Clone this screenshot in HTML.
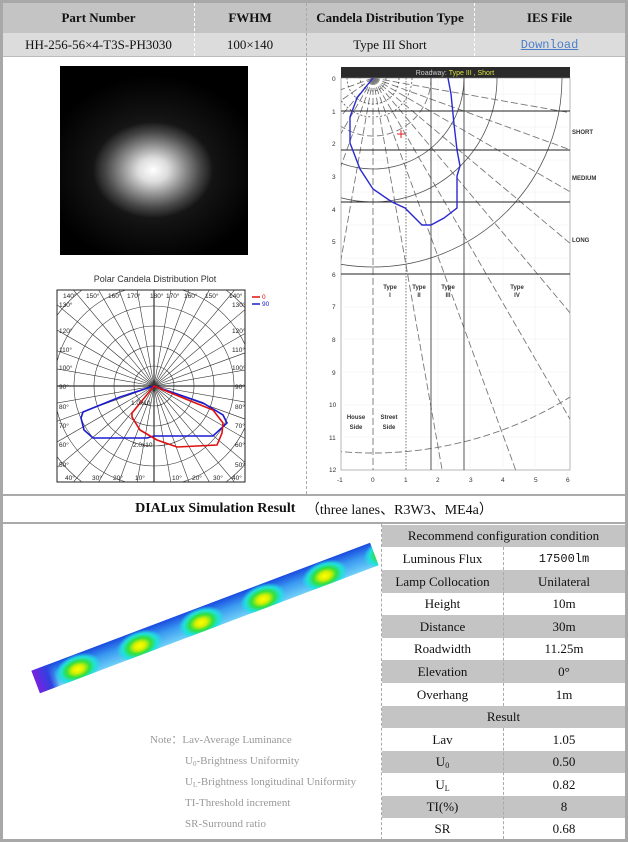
<!DOCTYPE html>
<html><head><meta charset="utf-8">
<style>
*{margin:0;padding:0;box-sizing:border-box}
body{width:628px;height:842px;background:#fff;position:relative;font-family:"Liberation Serif",serif;overflow:hidden}
.a{position:absolute}
.c{position:absolute;display:flex;align-items:center;justify-content:center;font-size:13px;color:#111}
.g{background:#c4c4c4}
sub{line-height:0;vertical-align:-2px}
</style></head><body>
<div class="a" style="left:0;top:0;width:628px;height:842px;border:3px solid #a8a8a8"></div>
<div class="c g" style="left:3px;top:3px;width:622px;height:30px"></div>
<div class="c" style="left:3px;top:3px;width:191px;height:30px;font-weight:bold">Part Number</div>
<div class="c" style="left:194px;top:3px;width:112px;height:30px;font-weight:bold">FWHM</div>
<div class="c" style="left:306px;top:3px;width:168px;height:30px;font-weight:bold">Candela Distribution Type</div>
<div class="c" style="left:474px;top:3px;width:151px;height:30px;font-weight:bold">IES File</div>
<div class="c" style="left:3px;top:33px;width:622px;height:23px;background:#dcdcdc"></div>
<div class="c" style="left:3px;top:33px;width:191px;height:23px">HH-256-56×4-T3S-PH3030</div>
<div class="c" style="left:194px;top:33px;width:112px;height:23px">100×140</div>
<div class="c" style="left:306px;top:33px;width:168px;height:23px">Type III Short</div>
<div class="c" style="left:474px;top:33px;width:151px;height:23px;color:#4a7fc8;text-decoration:underline;font-family:'Liberation Mono',monospace;font-size:12px">Download</div>
<div class="a" style="left:194px;top:3px;height:53px;border-left:1px dashed #fff"></div>
<div class="a" style="left:306px;top:3px;height:491px;border-left:1px dashed #aaa"></div>
<div class="a" style="left:474px;top:3px;height:53px;border-left:1px dashed #fff"></div>
<div class="a" style="left:3px;top:56px;width:622px;border-top:1px solid #bbb"></div>
<div class="a" style="left:60px;top:66px;width:188px;height:189px;background:radial-gradient(ellipse 60px 48px at 93px 104px,#fff 0%,#ddd 25%,#888 55%,#444 80%,rgba(0,0,0,0) 100%),radial-gradient(ellipse 110px 95px at 93px 104px,#333 0%,#111 60%,#000 100%)"></div>
<div class="a" style="left:57px;top:274px;width:196px;text-align:center;font-family:'Liberation Sans',sans-serif;font-size:9px;color:#333">Polar Candela Distribution Plot</div>
<svg class="a" style="left:0;top:0" width="628" height="842">
<defs><clipPath id="pc"><rect x="57" y="290" width="188" height="192"/></clipPath>
<clipPath id="rc"><rect x="341" y="78" width="229" height="392"/></clipPath></defs>
<rect x="57" y="290" width="188" height="192" fill="#fff" stroke="#222" stroke-width="1"/>
<g clip-path="url(#pc)" stroke="#333" stroke-width="0.6" fill="none">
<circle cx="154" cy="386" r="20"/><circle cx="154" cy="386" r="40"/><circle cx="154" cy="386" r="60"/><circle cx="154" cy="386" r="80"/><circle cx="154" cy="386" r="100"/><circle cx="154" cy="386" r="120"/>
<g transform="translate(154,386)">
<line x1="-150" y1="0" x2="150" y2="0" stroke-width="1.2"/><line x1="0" y1="-150" x2="0" y2="150" stroke-width="1.2"/>
<line x1="-150" y1="0" x2="150" y2="0" transform="rotate(10)"/><line x1="-150" y1="0" x2="150" y2="0" transform="rotate(20)"/><line x1="-150" y1="0" x2="150" y2="0" transform="rotate(30)"/><line x1="-150" y1="0" x2="150" y2="0" transform="rotate(40)"/><line x1="-150" y1="0" x2="150" y2="0" transform="rotate(50)"/><line x1="-150" y1="0" x2="150" y2="0" transform="rotate(60)"/><line x1="-150" y1="0" x2="150" y2="0" transform="rotate(70)"/><line x1="-150" y1="0" x2="150" y2="0" transform="rotate(80)"/><line x1="-150" y1="0" x2="150" y2="0" transform="rotate(100)"/><line x1="-150" y1="0" x2="150" y2="0" transform="rotate(110)"/><line x1="-150" y1="0" x2="150" y2="0" transform="rotate(120)"/><line x1="-150" y1="0" x2="150" y2="0" transform="rotate(130)"/><line x1="-150" y1="0" x2="150" y2="0" transform="rotate(140)"/><line x1="-150" y1="0" x2="150" y2="0" transform="rotate(150)"/><line x1="-150" y1="0" x2="150" y2="0" transform="rotate(160)"/><line x1="-150" y1="0" x2="150" y2="0" transform="rotate(170)"/>
</g>
</g>
<polygon points="154,386 120,397 83,412 81,418 84,430 93,438 147,438 154,436 213,436 227,423 223,415 203,403" fill="none" stroke="#1a1ad0" stroke-width="1.6"/>
<polygon points="154,386 132,413 132,417 140,430 157,440 177,447 217,445 222,433 223,423 213,410 193,402" fill="none" stroke="#e01010" stroke-width="1.6"/>
<g font-family="Liberation Sans,sans-serif" font-size="6.5" fill="#222">
<text x="63" y="298">140°</text><text x="86" y="298">150°</text><text x="108" y="298">160°</text><text x="127" y="298">170°</text><text x="150" y="298">180°</text><text x="166" y="298">170°</text><text x="184" y="298">160°</text><text x="205" y="298">150°</text><text x="229" y="298">140°</text>
<text x="59" y="307">130°</text><text x="232" y="307">130°</text><text x="59" y="333">120°</text><text x="232" y="333">120°</text><text x="59" y="352">110°</text><text x="232" y="352">110°</text><text x="59" y="370">100°</text><text x="232" y="370">100°</text><text x="59" y="389">90°</text><text x="235" y="389">90°</text><text x="59" y="409">80°</text><text x="235" y="409">80°</text><text x="59" y="428">70°</text><text x="235" y="428">70°</text><text x="59" y="447">60°</text><text x="235" y="447">60°</text><text x="59" y="467">50°</text><text x="235" y="467">50°</text>
<text x="65" y="480">40°</text><text x="92" y="480">30°</text><text x="113" y="480">20°</text><text x="135" y="480">10°</text><text x="172" y="480">10°</text><text x="192" y="480">20°</text><text x="213" y="480">30°</text><text x="232" y="480">40°</text>
<text x="131" y="405">1.0x10</text><text x="133" y="447">2.0x10</text>
<text x="262" y="299" fill="#e01010">0</text><text x="262" y="306" fill="#1a1ad0">90</text>
</g>
<line x1="252" y1="297" x2="260" y2="297" stroke="#e01010" stroke-width="1.5"/><line x1="252" y1="304" x2="260" y2="304" stroke="#1a1ad0" stroke-width="1.5"/>

<rect x="341" y="67" width="229" height="11" fill="#2a2a2a"/>
<text x="455" y="75" text-anchor="middle" font-family="Liberation Sans,sans-serif" font-size="7" fill="#ccc">Roadway: <tspan fill="#d8e040">Type III , Short</tspan></text>
<rect x="341" y="78" width="229" height="392" fill="#fff" stroke="#888" stroke-width="0.6"/>
<g clip-path="url(#rc)" fill="none">
<g stroke="#eee" stroke-width="0.5">
<line x1="341" y1="94" x2="570" y2="94"/><line x1="341" y1="127" x2="570" y2="127"/><line x1="341" y1="160" x2="570" y2="160"/><line x1="341" y1="192" x2="570" y2="192"/><line x1="341" y1="225" x2="570" y2="225"/><line x1="341" y1="258" x2="570" y2="258"/><line x1="341" y1="307" x2="570" y2="307"/><line x1="341" y1="339" x2="570" y2="339"/><line x1="341" y1="372" x2="570" y2="372"/><line x1="341" y1="405" x2="570" y2="405"/><line x1="341" y1="437" x2="570" y2="437"/>
<line x1="438" y1="78" x2="438" y2="470"/><line x1="470" y1="78" x2="470" y2="470"/><line x1="503" y1="78" x2="503" y2="470"/><line x1="535" y1="78" x2="535" y2="470"/>
</g>
<g stroke="#777" stroke-width="0.9" stroke-dasharray="7,3" transform="translate(373,78)">
<line x1="0" y1="0" x2="0" y2="700" transform="rotate(-10)"/><line x1="0" y1="0" x2="0" y2="700" transform="rotate(-20)"/><line x1="0" y1="0" x2="0" y2="700" transform="rotate(-30)"/><line x1="0" y1="0" x2="0" y2="700" transform="rotate(-40)"/><line x1="0" y1="0" x2="0" y2="700" transform="rotate(-50)"/><line x1="0" y1="0" x2="0" y2="700" transform="rotate(-60)"/><line x1="0" y1="0" x2="0" y2="700" transform="rotate(-70)"/><line x1="0" y1="0" x2="0" y2="700" transform="rotate(-80)"/>
<line x1="0" y1="0" x2="0" y2="700" transform="rotate(10)"/><line x1="0" y1="0" x2="0" y2="700" transform="rotate(20)"/><line x1="0" y1="0" x2="0" y2="700" transform="rotate(30)"/><line x1="0" y1="0" x2="0" y2="700" transform="rotate(40)"/><line x1="0" y1="0" x2="0" y2="700" transform="rotate(55)"/><line x1="0" y1="0" x2="0" y2="700" transform="rotate(70)"/>
<line x1="0" y1="0" x2="0" y2="700"/>
<circle cx="0" cy="0" r="58"/><circle cx="0" cy="0" r="375"/>
</g>
<g stroke="#555" stroke-width="0.8">
<circle cx="373" cy="78" r="91"/><circle cx="373" cy="78" r="124"/><circle cx="373" cy="78" r="189"/>
<circle cx="373" cy="78" r="13" stroke-dasharray="2,2"/><circle cx="373" cy="78" r="26" stroke-dasharray="2,2"/><circle cx="373" cy="78" r="39" stroke-dasharray="2,2"/>
</g>
<g stroke="#222" stroke-width="0.9">
<line x1="341" y1="111" x2="570" y2="111"/><line x1="341" y1="150" x2="570" y2="150"/><line x1="341" y1="202" x2="570" y2="202"/><line x1="341" y1="274" x2="570" y2="274"/>
<line x1="431" y1="78" x2="431" y2="470" stroke="#444"/><line x1="464" y1="78" x2="464" y2="470" stroke="#444"/>
</g>
<line x1="406" y1="78" x2="406" y2="470" stroke="#555" stroke-width="0.8" stroke-dasharray="1.5,1.5"/>
<polyline points="373,78 357,98 350,117 350,143 360,169 373,189 392,202 405,208 422,225 431,225 444,218 457,208 457,176 460,166 457,150 454,124 451,94 448,78" stroke="#2a2ad0" stroke-width="1.4"/>
</g>
<path d="M397,134h8M401,130v8" stroke="#e02020" stroke-width="1"/>
<g font-family="Liberation Sans,sans-serif" font-size="6.5" fill="#333">
<text x="332" y="81">0</text><text x="332" y="114">1</text><text x="332" y="146">2</text><text x="332" y="179">3</text><text x="332" y="212">4</text><text x="332" y="244">5</text><text x="332" y="277">6</text><text x="332" y="309">7</text><text x="332" y="342">8</text><text x="332" y="375">9</text><text x="329" y="407">10</text><text x="329" y="440">11</text><text x="329" y="472">12</text>
<text x="337" y="482">-1</text><text x="371" y="482">0</text><text x="404" y="482">1</text><text x="436" y="482">2</text><text x="469" y="482">3</text><text x="501" y="482">4</text><text x="534" y="482">5</text><text x="566" y="482">6</text>
<g font-weight="bold" font-size="6">
<text x="572" y="134">SHORT</text><text x="572" y="180">MEDIUM</text><text x="572" y="242">LONG</text>
<text x="390" y="289" text-anchor="middle">Type</text><text x="390" y="297" text-anchor="middle">I</text>
<text x="419" y="289" text-anchor="middle">Type</text><text x="419" y="297" text-anchor="middle">II</text>
<text x="448" y="289" text-anchor="middle">Type</text><text x="448" y="297" text-anchor="middle">III</text>
<text x="517" y="289" text-anchor="middle">Type</text><text x="517" y="297" text-anchor="middle">IV</text>
<text x="356" y="419" text-anchor="middle">House</text><text x="356" y="429" text-anchor="middle">Side</text>
<text x="389" y="419" text-anchor="middle">Street</text><text x="389" y="429" text-anchor="middle">Side</text>
</g></g>
</svg>
<div class="a" style="left:3px;top:494px;width:622px;border-top:2px solid #aaa"></div>
<div class="c" style="left:3px;top:496px;width:622px;height:26px;font-size:14px"><b>DIALux Simulation Result</b>&nbsp;&nbsp;&nbsp;（three lanes、R3W3、ME4a）</div>
<div class="a" style="left:3px;top:522px;width:622px;border-top:2px solid #aaa"></div>
<div class="a" style="left:24px;top:606px;width:362px;height:24px;transform:rotate(-20.7deg);transform-origin:center;overflow:hidden;
background:
radial-gradient(ellipse 24px 15px at 44px 15px,#ffff00 0%,#d8f000 25%,#30e040 50%,#20e0e0 75%,rgba(40,160,240,0) 100%),
radial-gradient(ellipse 24px 15px at 110px 15px,#ffff00 0%,#d8f000 25%,#30e040 50%,#20e0e0 75%,rgba(40,160,240,0) 100%),
radial-gradient(ellipse 24px 15px at 176px 15px,#ffff00 0%,#d8f000 25%,#30e040 50%,#20e0e0 75%,rgba(40,160,240,0) 100%),
radial-gradient(ellipse 24px 15px at 242px 15px,#ffff00 0%,#d8f000 25%,#30e040 50%,#20e0e0 75%,rgba(40,160,240,0) 100%),
radial-gradient(ellipse 24px 15px at 308px 15px,#ffff00 0%,#d8f000 25%,#30e040 50%,#20e0e0 75%,rgba(40,160,240,0) 100%),
radial-gradient(ellipse 24px 15px at 374px 15px,#ffff00 0%,#d8f000 25%,#30e040 50%,#20e0e0 75%,rgba(40,160,240,0) 100%),
linear-gradient(90deg,#7a20e0 0px,#3040e0 14px,rgba(0,0,0,0) 22px),
linear-gradient(180deg,#1a4ae0 0%,#3a9af0 45%,#70d0f8 100%)"></div>
<div class="a" style="left:150px;top:730px;font-size:11px;color:#999;line-height:21px">Note：Lav-Average Luminance</div>
<div class="a" style="left:185px;top:751px;font-size:11px;color:#999;line-height:21px">U<sub style="font-size:7px">0</sub>-Brightness Uniformity<br>U<sub style="font-size:7px">L</sub>-Brightness longitudinal Uniformity<br>TI-Threshold increment<br>SR-Surround ratio</div>
<div class="a" style="left:381px;top:524px;width:244px;height:316px;border-left:1px dashed #aaa"></div>
<div class="c g" style="left:382px;top:525px;width:243px;height:22px">Recommend configuration condition</div>
<div class="c" style="left:382px;top:547px;width:121px;height:23px">Luminous Flux</div><div class="c" style="left:503px;top:547px;width:122px;height:23px;font-family:'Liberation Mono',monospace;font-size:12px">17500lm</div>
<div class="c g" style="left:382px;top:570px;width:121px;height:23px">Lamp Collocation</div><div class="c g" style="left:503px;top:570px;width:122px;height:23px">Unilateral</div>
<div class="c" style="left:382px;top:593px;width:121px;height:22px">Height</div><div class="c" style="left:503px;top:593px;width:122px;height:22px">10m</div>
<div class="c g" style="left:382px;top:615px;width:121px;height:23px">Distance</div><div class="c g" style="left:503px;top:615px;width:122px;height:23px">30m</div>
<div class="c" style="left:382px;top:638px;width:121px;height:22px">Roadwidth</div><div class="c" style="left:503px;top:638px;width:122px;height:22px">11.25m</div>
<div class="c g" style="left:382px;top:660px;width:121px;height:23px">Elevation</div><div class="c g" style="left:503px;top:660px;width:122px;height:23px">0°</div>
<div class="c" style="left:382px;top:683px;width:121px;height:23px">Overhang</div><div class="c" style="left:503px;top:683px;width:122px;height:23px">1m</div>
<div class="c g" style="left:382px;top:706px;width:243px;height:22px">Result</div>
<div class="c" style="left:382px;top:728px;width:121px;height:23px">Lav</div><div class="c" style="left:503px;top:728px;width:122px;height:23px">1.05</div>
<div class="c g" style="left:382px;top:751px;width:121px;height:22px"><span>U<sub style="font-size:8px">0</sub></span></div><div class="c g" style="left:503px;top:751px;width:122px;height:22px">0.50</div>
<div class="c" style="left:382px;top:773px;width:121px;height:23px"><span>U<sub style="font-size:8px">L</sub></span></div><div class="c" style="left:503px;top:773px;width:122px;height:23px">0.82</div>
<div class="c g" style="left:382px;top:796px;width:121px;height:22px">TI(%)</div><div class="c g" style="left:503px;top:796px;width:122px;height:22px">8</div>
<div class="c" style="left:382px;top:818px;width:121px;height:21px">SR</div><div class="c" style="left:503px;top:818px;width:122px;height:21px">0.68</div>
<div class="a" style="left:503px;top:547px;height:159px;border-left:1px dashed #aaa"></div>
<div class="a" style="left:503px;top:728px;height:111px;border-left:1px dashed #aaa"></div>
</body></html>
